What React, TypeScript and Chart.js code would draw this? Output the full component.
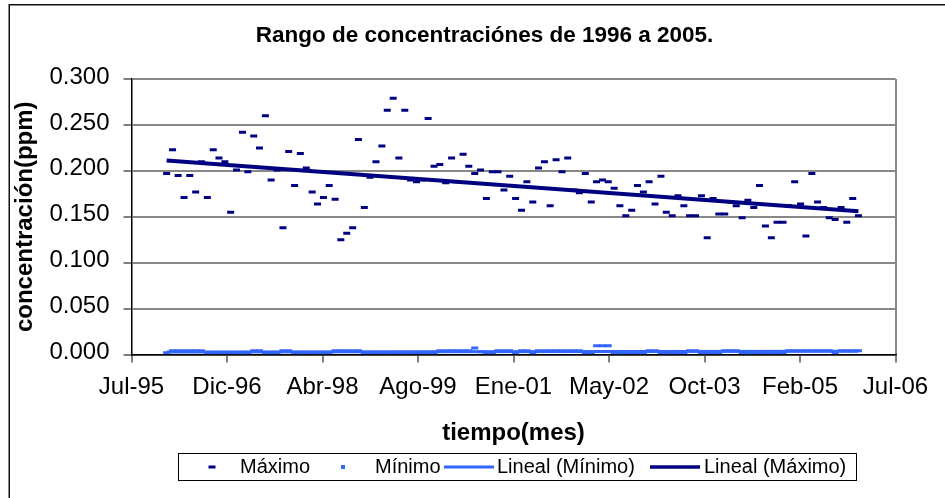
import React, { useEffect, useRef } from 'react';
import { Chart, registerables } from 'chart.js';

Chart.register(...registerables);

// ---------- data ----------
const chartTitle = 'Rango de concentraciónes de 1996 a 2005.';
const xTitle = 'tiempo(mes)';
const yTitle = 'concentración(ppm)';
const seriesNames = ['Máximo', 'Mínimo', 'Lineal (Mínimo)', 'Lineal (Máximo)'];
const monthNames = ['Ene', 'Feb', 'Mar', 'Abr', 'May', 'Jun', 'Jul', 'Ago', 'Sep', 'Oct', 'Nov', 'Dic'];

// monthly samples, Jan 1996 .. Dec 2005
const START_YEAR = 1996;
const SAMPLE_DAY = 20;

// maximum monthly concentration (ppm), 12 values per year
const maximo = [
  0.197, 0.223, 0.195, 0.171, 0.195, 0.177, 0.210, 0.171, 0.223, 0.214, 0.210, 0.155, // 1996
  0.201, 0.242, 0.199, 0.238, 0.225, 0.260, 0.190, 0.201, 0.138, 0.221, 0.184, 0.219, // 1997
  0.203, 0.177, 0.164, 0.171, 0.184, 0.169, 0.125, 0.132, 0.138, 0.234, 0.160, 0.193, // 1998
  0.210, 0.227, 0.266, 0.279, 0.214, 0.266, 0.190, 0.188, 0.190, 0.257, 0.205, 0.207, // 1999
  0.187, 0.214, 0.188, 0.218, 0.205, 0.197, 0.201, 0.170, 0.199, 0.199, 0.179, 0.194, // 2000
  0.170, 0.157, 0.188, 0.166, 0.203, 0.210, 0.162, 0.212, 0.199, 0.214, 0.179, 0.176, // 2001
  0.197, 0.166, 0.188, 0.190, 0.188, 0.181, 0.162, 0.151, 0.157, 0.184, 0.177, 0.188, // 2002
  0.164, 0.194, 0.155, 0.151, 0.173, 0.162, 0.151, 0.151, 0.173, 0.127, 0.170, 0.153, // 2003
  0.153, 0.166, 0.162, 0.149, 0.168, 0.160, 0.184, 0.140, 0.127, 0.144, 0.144, 0.162, // 2004
  0.188, 0.164, 0.129, 0.197, 0.166, 0.160, 0.149, 0.147, 0.160, 0.144, 0.170, 0.151, // 2005
];

// minimum monthly concentration (ppm)
const minimo = [
  0.002, 0.004, 0.004, 0.004, 0.004, 0.004, 0.004, 0.002, 0.002, 0.002, 0.002, 0.002, // 1996
  0.002, 0.002, 0.002, 0.004, 0.004, 0.002, 0.002, 0.002, 0.004, 0.004, 0.002, 0.002, // 1997
  0.002, 0.002, 0.002, 0.002, 0.002, 0.004, 0.004, 0.004, 0.004, 0.004, 0.002, 0.002, // 1998
  0.002, 0.002, 0.002, 0.002, 0.002, 0.002, 0.002, 0.002, 0.002, 0.002, 0.002, 0.004, // 1999
  0.004, 0.004, 0.004, 0.004, 0.004, 0.007, 0.003, 0.002, 0.002, 0.004, 0.004, 0.004, // 2000
  0.002, 0.004, 0.004, 0.002, 0.004, 0.004, 0.004, 0.004, 0.004, 0.004, 0.004, 0.004, // 2001
  0.002, 0.002, 0.0095, 0.0095, 0.0095, 0.002, 0.002, 0.002, 0.002, 0.002, 0.002, 0.004, // 2002
  0.004, 0.002, 0.002, 0.002, 0.002, 0.002, 0.004, 0.004, 0.002, 0.002, 0.002, 0.002, // 2003
  0.004, 0.004, 0.004, 0.002, 0.002, 0.002, 0.002, 0.002, 0.002, 0.002, 0.002, 0.004, // 2004
  0.004, 0.004, 0.004, 0.004, 0.004, 0.004, 0.004, 0.002, 0.004, 0.004, 0.004, 0.004, // 2005
];

// axis ranges (Excel date serials on x)
const X_MIN = 34900; // Jul-95
const X_MAX = 38900; // Jul-06
const X_STEP = 500;
const Y_MIN = 0;
const Y_MAX = 0.3;
const Y_STEP = 0.05;

// ---------- helpers ----------
const EXCEL_EPOCH = Date.UTC(1899, 11, 30);
const DAY_MS = 86400000;
function toSerial(y: number, m: number, d: number) {
  return (Date.UTC(y, m, d) - EXCEL_EPOCH) / DAY_MS;
}
function serialLabel(s: number) {
  const d = new Date(EXCEL_EPOCH + s * DAY_MS);
  return monthNames[d.getUTCMonth()] + '-' + String(d.getUTCFullYear()).slice(2);
}
function linFit(xs: number[], ys: number[]) {
  const n = xs.length;
  let sx = 0, sy = 0, sxx = 0, sxy = 0;
  for (let i = 0; i < n; i++) {
    sx += xs[i]; sy += ys[i]; sxx += xs[i] * xs[i]; sxy += xs[i] * ys[i];
  }
  const slope = (n * sxy - sx * sy) / (n * sxx - sx * sx);
  const intercept = (sy - slope * sx) / n;
  return (x: number) => intercept + slope * x;
}

const FONT = '"Liberation Sans", Arial, Helvetica, sans-serif';
const NAVY = '#000080';
const LIGHT = '#3366ff';

const decorPlugin = {
  id: 'decor',
  afterDraw(chart: any) {
    const ctx = chart.ctx as CanvasRenderingContext2D;
    ctx.save();
    // outer chart border (right & bottom edges fall outside the picture)
    ctx.strokeStyle = '#111';
    ctx.lineWidth = 1.5;
    ctx.beginPath();
    ctx.moveTo(9.25, 520);
    ctx.lineTo(9.25, 4.75);
    ctx.lineTo(960, 4.75);
    ctx.stroke();

    // title
    ctx.fillStyle = '#000';
    ctx.font = `bold 22.5px ${FONT}`;
    ctx.textAlign = 'center';
    ctx.textBaseline = 'alphabetic';
    ctx.fillText(chartTitle, 484.5, 41.7);

    // legend
    const top = 453.5, h = 27, left = 178.5, w = 678;
    const cy = top + h / 2;
    ctx.strokeStyle = '#000';
    ctx.lineWidth = 1;
    ctx.strokeRect(left, top, w, h);
    ctx.font = `20px ${FONT}`;
    ctx.textAlign = 'left';
    ctx.textBaseline = 'middle';

    // Máximo marker (dash)
    ctx.fillStyle = NAVY;
    ctx.fillRect(208.5, cy - 1.5, 7, 3);
    ctx.fillStyle = '#000';
    ctx.fillText(seriesNames[0], 240, cy);
    // Mínimo marker (small square)
    ctx.fillStyle = LIGHT;
    ctx.fillRect(341, cy - 2, 4, 4);
    ctx.fillStyle = '#000';
    ctx.fillText(seriesNames[1], 375, cy);
    // Lineal (Mínimo)
    ctx.strokeStyle = LIGHT;
    ctx.lineWidth = 3;
    ctx.beginPath(); ctx.moveTo(444, cy); ctx.lineTo(494, cy); ctx.stroke();
    ctx.fillText(seriesNames[2], 497, cy);
    // Lineal (Máximo)
    ctx.strokeStyle = NAVY;
    ctx.lineWidth = 3.5;
    ctx.beginPath(); ctx.moveTo(650, cy); ctx.lineTo(700, cy); ctx.stroke();
    ctx.fillText(seriesNames[3], 704, cy);
    ctx.restore();
  },
};

export default function App() {
  const ref = useRef<HTMLCanvasElement | null>(null);

  useEffect(() => {
    if (!ref.current) return;
    const xs = maximo.map((_, i) => toSerial(START_YEAR + Math.floor(i / 12), i % 12, SAMPLE_DAY));
    const maxPts = maximo.map((v, i) => ({ x: xs[i], y: v }));
    const minPts = minimo.map((v, i) => ({ x: xs[i], y: v }));
    const fMax = linFit(xs, maximo);
    const fMin = linFit(xs, minimo);
    const x0 = xs[0];
    const x1 = xs[xs.length - 1];

    const chart = new Chart(ref.current, {
      type: 'scatter',
      data: {
        datasets: [
          {
            label: seriesNames[3],
            data: [{ x: x0, y: fMax(x0) }, { x: x1, y: fMax(x1) }],
            showLine: true,
            borderColor: NAVY,
            backgroundColor: NAVY,
            borderWidth: 4,
            pointRadius: 0,
            order: 0,
          },
          {
            label: seriesNames[2],
            data: [{ x: x0, y: fMin(x0) }, { x: x1, y: fMin(x1) }],
            showLine: true,
            borderColor: LIGHT,
            backgroundColor: LIGHT,
            borderWidth: 3,
            pointRadius: 0,
            order: 1,
          },
          {
            label: seriesNames[0],
            data: maxPts,
            showLine: false,
            pointStyle: 'line',
            pointRadius: 3.5,
            pointBorderWidth: 3,
            borderWidth: 3,
            borderColor: NAVY,
            backgroundColor: NAVY,
            order: 2,
          },
          {
            label: seriesNames[1],
            data: minPts,
            showLine: false,
            pointStyle: 'line',
            pointRadius: 3.5,
            pointBorderWidth: 3,
            borderWidth: 3,
            borderColor: LIGHT,
            backgroundColor: LIGHT,
            order: 3,
          },
        ],
      },
      options: {
        animation: false,
        responsive: false,
        maintainAspectRatio: false,
        events: [],
        layout: { padding: { top: 79, left: 0, right: 49.5, bottom: 0 } },
        plugins: {
          legend: { display: false },
          title: { display: false },
          tooltip: { enabled: false },
        },
        scales: {
          x: {
            type: 'linear',
            min: X_MIN,
            max: X_MAX,
            afterFit: (s: any) => { s.height = 143.5; },
            ticks: {
              stepSize: X_STEP,
              autoSkip: false,
              maxRotation: 0,
              padding: 10,
              color: '#000',
              font: { family: FONT, size: 24 },
              callback: (v: any) => serialLabel(Number(v)),
            },
            grid: {
              color: (c: any) => (c.index === 8 ? '#888888' : 'rgba(0,0,0,0)'),
              lineWidth: 2,
              tickColor: '#000',
              tickWidth: 1,
              tickLength: 8,
            },
            border: { color: '#000', width: 1.5 },
            title: {
              display: true,
              text: xTitle,
              color: '#000',
              font: { family: FONT, size: 24, weight: 'bold' },
              padding: { top: 0, bottom: 50.6 },
            },
          },
          y: {
            min: Y_MIN,
            max: Y_MAX,
            afterFit: (s: any) => { s.width = 131.5; },
            ticks: {
              stepSize: Y_STEP,
              padding: 14,
              labelOffset: -2,
              color: '#000',
              font: { family: FONT, size: 24 },
              callback: (v: any) => Number(v).toFixed(3),
            },
            grid: {
              color: '#888888',
              lineWidth: 2,
              tickColor: '#000',
              tickWidth: 1,
              tickLength: 8,
            },
            border: { color: '#000', width: 1.5 },
            title: {
              display: true,
              text: yTitle,
              color: '#000',
              font: { family: FONT, size: 24, weight: 'bold' },
              padding: { top: 10.6, bottom: 0 },
            },
          },
        },
      },
      plugins: [decorPlugin],
    } as any);

    return () => chart.destroy();
  }, []);

  return (
    <div style={{ position: 'absolute', left: 0, top: 0, width: 945, height: 498, background: '#fff' }}>
      <canvas ref={ref} width={945} height={498} style={{ display: 'block', width: 945, height: 498 }} />
    </div>
  );
}
